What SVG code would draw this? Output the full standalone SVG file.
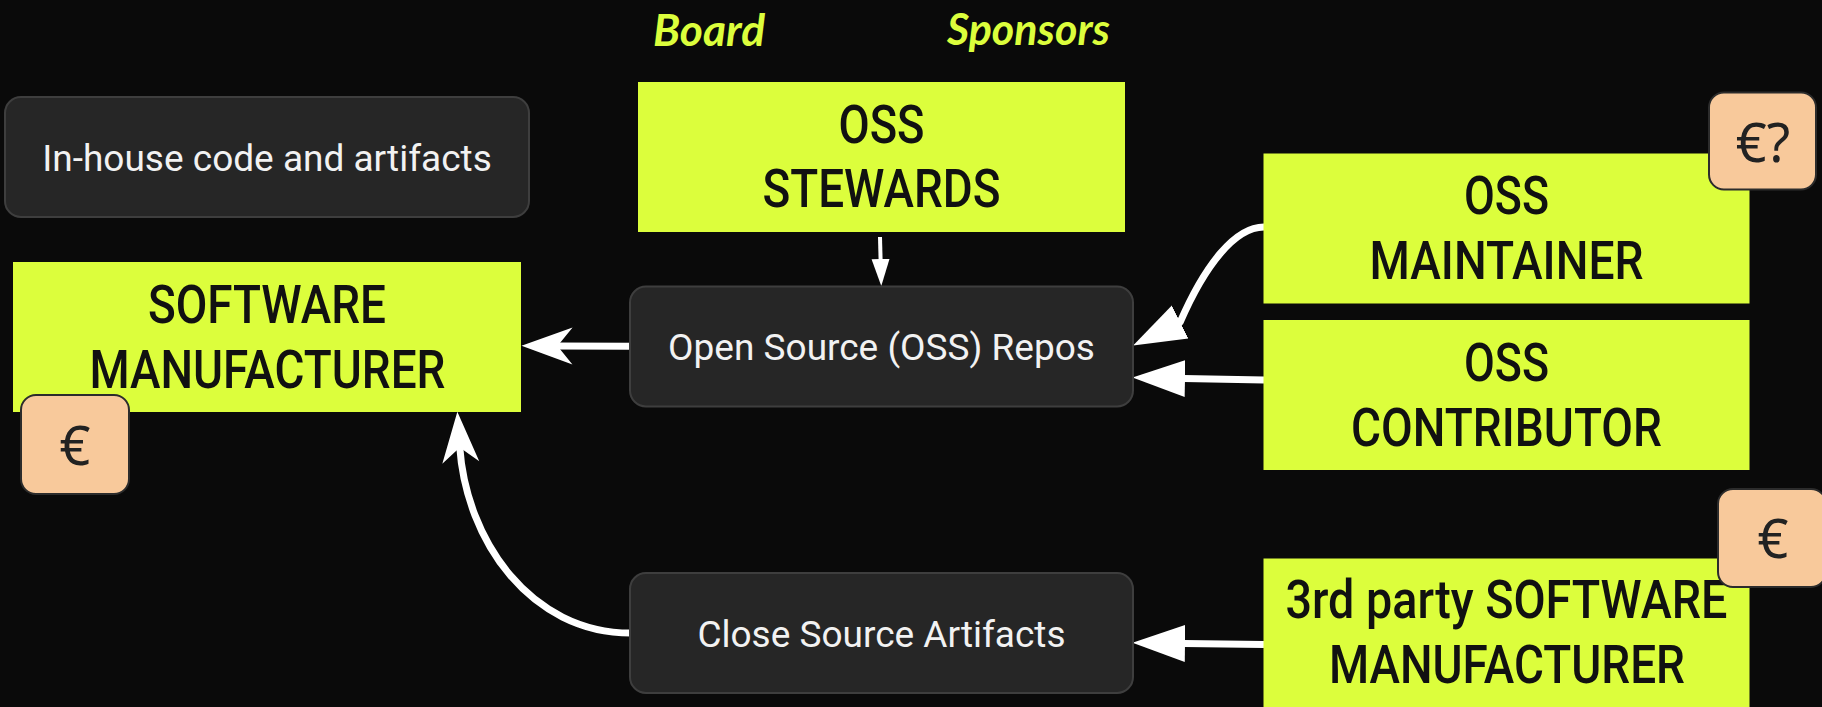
<svg xmlns="http://www.w3.org/2000/svg" width="1822" height="707" viewBox="0 0 1822 707">
  <style>
    .bg { fill: #0a0a0a; }
    .lime { fill: #dcfe3c; }
    .dark { fill: #262626; stroke: #3e3e3e; stroke-width: 2; }
    .badge { fill: #f8c99b; stroke: #2c2c2c; stroke-width: 2; }
    .big { font-family: Roboto, "Liberation Sans", sans-serif; font-weight: 500; font-size: 53px; fill: #111111; text-anchor: middle; }
    .small { font-family: Roboto, "Liberation Sans", sans-serif; font-size: 37px; fill: #f2f2f2; text-anchor: middle; }
    .money { font-family: "Noto Sans", "Open Sans", sans-serif; font-size: 54px; fill: #222222; text-anchor: middle; }
    .hand { font-family: Lato, "Noto Sans", sans-serif; font-style: italic; font-weight: 700; font-size: 44px; fill: #dcfe3c; }
    .wire { fill: none; stroke: #ffffff; stroke-width: 7; stroke-linejoin: round; }
    .thin { fill: none; stroke: #ffffff; stroke-width: 4; }
  </style>
  <defs>
    <!-- flat triangular head, base sits on the path end -->
    <marker id="tri" markerUnits="userSpaceOnUse" viewBox="-1 -20 54 40" markerWidth="54" markerHeight="40" refX="0" refY="0" orient="auto">
      <path d="M-1,-18.5 L51.5,0 L-1,18.5 Z" fill="#ffffff"/>
    </marker>
    <!-- concave head, notch sits on the path end -->
    <marker id="barb" markerUnits="userSpaceOnUse" viewBox="-18 -20 56 40" markerWidth="56" markerHeight="40" refX="0" refY="0" orient="auto">
      <path d="M-16,-18.5 L35,0 L-16,18.5 L-1,0 Z" fill="#ffffff"/>
    </marker>
    <marker id="tiny" markerUnits="userSpaceOnUse" viewBox="-1 -10 28 20" markerWidth="28" markerHeight="20" refX="0" refY="0" orient="auto">
      <path d="M-1,-9 L26,0 L-1,9 Z" fill="#ffffff"/>
    </marker>
  </defs>

  <rect class="bg" x="0" y="0" width="1822" height="707"/>

  <text class="hand" x="653" y="46" textLength="112" lengthAdjust="spacingAndGlyphs">Board</text>
  <text class="hand" x="947" y="45" textLength="163" lengthAdjust="spacingAndGlyphs">Sponsors</text>

  <g id="connectors">
    <!-- stewards down to repos -->
    <path class="thin" d="M880,237 L880.6,260" marker-end="url(#tiny)"/>
    <!-- repos to manufacturer -->
    <path class="wire" d="M631,346.3 L556.5,346" marker-end="url(#barb)"/>
    <!-- closed artifacts up to manufacturer -->
    <path class="wire" d="M631,633 C 530,633 466,540 459.7,446.6" marker-end="url(#barb)"/>
    <!-- maintainer to repos -->
    <path class="wire" d="M1264,227 C 1235,227 1205,265 1180.2,322 L1179.2,322.5" marker-end="url(#tri)"/>
    <!-- contributor to repos -->
    <path class="wire" d="M1264,380 L1184,378.5" marker-end="url(#tri)"/>
    <!-- third party to closed artifacts -->
    <path class="wire" d="M1264,644.5 L1184,643.5" marker-end="url(#tri)"/>
  </g>

  <g id="inhouse">
    <rect class="dark" x="5" y="97" width="524" height="120" rx="16"/>
    <text class="small" x="267" y="171">In-house code and artifacts</text>
  </g>

  <g id="manufacturer">
    <rect class="lime" x="13" y="262" width="508" height="150"/>
    <text class="big" x="267" y="323" textLength="238" lengthAdjust="spacingAndGlyphs">SOFTWARE</text>
    <text class="big" x="267.5" y="387.5" textLength="356" lengthAdjust="spacingAndGlyphs">MANUFACTURER</text>
  </g>

  <g id="manufacturer-money">
    <rect class="badge" x="21" y="395" width="108" height="99" rx="15"/>
    <text class="money" x="75" y="465">€</text>
  </g>

  <g id="stewards">
    <rect class="lime" x="638" y="82" width="487" height="150"/>
    <text class="big" x="881.5" y="143.3" textLength="86" lengthAdjust="spacingAndGlyphs">OSS</text>
    <text class="big" x="881.5" y="207.3" textLength="238" lengthAdjust="spacingAndGlyphs">STEWARDS</text>
  </g>

  <g id="repos">
    <rect class="dark" x="630" y="286.5" width="503" height="120" rx="16"/>
    <text class="small" x="881.5" y="360">Open Source (OSS) Repos</text>
  </g>

  <g id="closed">
    <rect class="dark" x="630" y="573" width="503" height="120" rx="16"/>
    <text class="small" x="881.5" y="646.7">Close Source Artifacts</text>
  </g>

  <g id="maintainer">
    <rect class="lime" x="1263.5" y="153.5" width="486" height="150"/>
    <text class="big" x="1506.5" y="214.3" textLength="85" lengthAdjust="spacingAndGlyphs">OSS</text>
    <text class="big" x="1506.5" y="279" textLength="274" lengthAdjust="spacingAndGlyphs">MAINTAINER</text>
  </g>

  <g id="maintainer-money">
    <rect class="badge" x="1709" y="92.5" width="107" height="97" rx="15"/>
    <text class="money" x="1763" y="161.7">€?</text>
  </g>

  <g id="contributor">
    <rect class="lime" x="1263.5" y="320" width="486" height="150"/>
    <text class="big" x="1506.5" y="381" textLength="85" lengthAdjust="spacingAndGlyphs">OSS</text>
    <text class="big" x="1506.5" y="445.7" textLength="311" lengthAdjust="spacingAndGlyphs">CONTRIBUTOR</text>
  </g>

  <g id="thirdparty">
    <rect class="lime" x="1263.5" y="558.5" width="486" height="160"/>
    <text class="big" x="1506.5" y="618.3" textLength="442" lengthAdjust="spacingAndGlyphs">3rd party SOFTWARE</text>
    <text class="big" x="1507" y="683.3" textLength="356" lengthAdjust="spacingAndGlyphs">MANUFACTURER</text>
  </g>

  <g id="thirdparty-money">
    <rect class="badge" x="1718" y="489" width="108" height="98" rx="15"/>
    <text class="money" x="1773" y="558.3">€</text>
  </g>
</svg>
